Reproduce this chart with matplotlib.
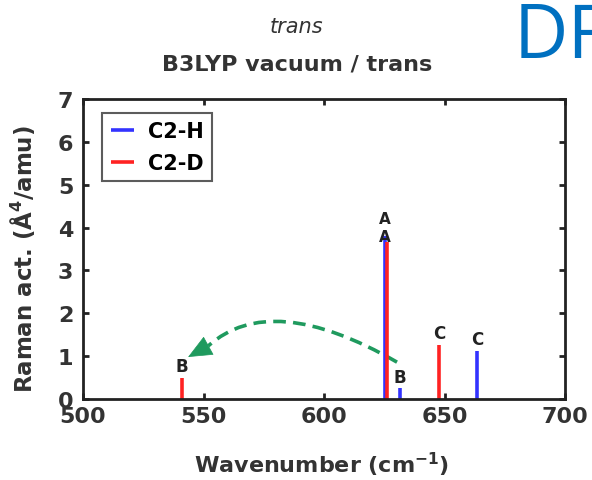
import matplotlib
matplotlib.use("Agg")
import matplotlib.pyplot as plt
from matplotlib.path import Path
from matplotlib.patches import PathPatch

plt.rcParams['font.family'] = ['DejaVu Sans']
plt.rcParams['mathtext.fontset'] = 'custom'
plt.rcParams['mathtext.rm'] = 'DejaVu Sans:bold'
plt.rcParams['mathtext.bf'] = 'DejaVu Sans:bold'

# peak positions (cm-1) and Raman activities, with mode labels
h_pos = [625.2, 631.5, 663.5]
h_act = [3.8, 0.25, 1.13]
h_lab = ['A', 'B', 'C']

d_pos = [626.0, 541.0, 647.8]
d_act = [3.66, 0.5, 1.27]
d_lab = ['A', 'B', 'C']

fig = plt.figure(figsize=(5.92, 4.81), dpi=100)
ax = fig.add_axes([83 / 592, 1 - 400 / 481, 482 / 592, 300 / 481])

ax.vlines(h_pos, 0, h_act, color='#3333ff', lw=2.6, label='C2-H')
ax.vlines(d_pos, 0, d_act, color='#ff2222', lw=2.6, label='C2-D')

lab_kw = dict(ha='center', va='bottom', fontsize=12, fontweight='bold', color='#222222')
for x, y, s in zip(h_pos[1:], h_act[1:], h_lab[1:]):
    ax.text(x, y + 0.06, s, **lab_kw)
for x, y, s in zip(d_pos[1:], d_act[1:], d_lab[1:]):
    ax.text(x, y + 0.06, s, **lab_kw)
# the two A labels stack above the overlapping lines
ax.text(h_pos[0], 3.78, h_lab[0], ha='center', va='center', fontsize=11,
        fontweight='bold', color='#222222')
ax.text(h_pos[0], 4.2, d_lab[0], ha='center', va='center', fontsize=11,
        fontweight='bold', color='#222222')

# dashed curved arrow (B mode shifting down on deuteration)
green = '#1f9a5e'
start, ctrl, end = (630.3, 0.86), (578.0, 2.55), (552.0, 1.24)
curve = PathPatch(Path([start, ctrl, end], [Path.MOVETO, Path.CURVE3, Path.CURVE3]),
                  fill=False, edgecolor=green, lw=2.6, linestyle=(0, (3.5, 2)))
ax.add_patch(curve)
ax.annotate('', xy=(543.6, 0.98), xytext=end,
            arrowprops=dict(arrowstyle='-|>,head_length=0.8,head_width=0.35',
                            color=green, lw=0.5, mutation_scale=20,
                            shrinkA=0, shrinkB=0))

ax.set_xlim(500, 700)
ax.set_ylim(0, 7)
ax.set_xticks([500, 550, 600, 650, 700])
ax.set_yticks(range(8))
ax.tick_params(direction='in', top=True, right=True, length=4, width=2,
               labelsize=16, colors='#222222', labelcolor='#333333')
ax.tick_params(axis='x', pad=5)
ax.tick_params(axis='y', pad=7)
for lab in ax.get_xticklabels() + ax.get_yticklabels():
    lab.set_fontweight('bold')
for sp in ax.spines.values():
    sp.set_linewidth(2)
    sp.set_color('#222222')

ax.set_xlabel('Wavenumber (cm$^{-1}$)', fontsize=16, fontweight='bold', color='#333333')
ax.set_ylabel('Raman act. (Å$^{4}$/amu)', fontsize=16.5, fontweight='bold', color='#333333')
ax.xaxis.set_label_coords(0.496, -0.17)
ax.yaxis.set_label_coords(-0.095, 0.47)

leg = ax.legend(loc='upper left', prop={'weight': 'bold', 'size': 15},
                handlelength=1.1, frameon=True, fancybox=False, borderpad=0.4,
                labelspacing=0.55, handletextpad=0.7, borderaxespad=0,
                bbox_to_anchor=(0.04, 0.953))
leg.get_frame().set_edgecolor('#333333')
leg.get_frame().set_linewidth(1.5)

fig.text(296 / 592, 1 - 27 / 481, 'trans', ha='center', va='center', fontsize=15,
         style='italic', color='#333333')
fig.text(297 / 592, 1 - 65 / 481, 'B3LYP vacuum / trans', ha='center', va='center',
         fontsize=16, fontweight='bold', color='#333333')
fig.text(514 / 592, 1 - 58 / 481, 'DF', ha='left', va='baseline', fontsize=54,
         color='#0070c0', family=['Open Sans', 'DejaVu Sans'])

fig.savefig('out.png', dpi=100)
